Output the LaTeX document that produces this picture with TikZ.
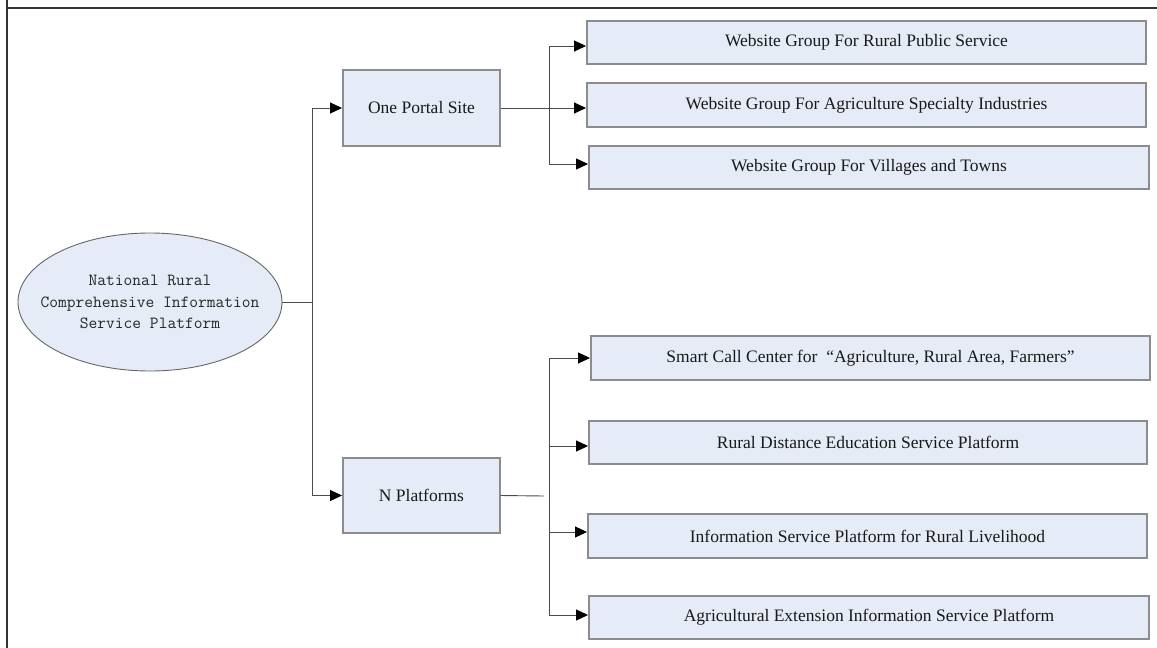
\documentclass[tikz,border=0pt]{standalone}
\usepackage{fontspec}
\setmainfont{Liberation Serif}
\usetikzlibrary{shapes.geometric,arrows.meta}
\definecolor{boxfill}{HTML}{E6ECF7}
\definecolor{boxline}{HTML}{8C8C8C}
\definecolor{connline}{HTML}{4A4A4A}
\begin{document}
\begin{tikzpicture}[x=1pt,y=-1pt,
  box/.style={draw=boxline,line width=1.3pt,fill=boxfill,inner sep=0pt,
    font=\fontsize{17.5}{20}\selectfont,text=black!90},
  conn/.style={draw=connline,line width=0.9pt},
  arr/.style={conn,-{Triangle[length=12pt,width=11pt,color=black]},shorten >=0.3pt}]
\useasboundingbox (0,0) rectangle (1157,648);
% frame (top and left only)
\draw[black!80,line width=2.2pt] (7,0) -- (7,648);
\draw[black!80,line width=2.2pt] (6,8) -- (1157,8);
% root ellipse
\node[ellipse,draw=black!60,line width=0.9pt,fill=boxfill,
  inner xsep=-22pt,inner ysep=0pt,
  minimum width=264pt,minimum height=138pt,
  font=\ttfamily\fontsize{17}{21.5}\selectfont,text=black!85,align=center]
  (root) at (150,302) {National Rural\\Comprehensive Information\\Service Platform};
% level 2
\node[box,minimum width=157pt,minimum height=76pt] (portal) at (421.5,108) {One Portal Site};
\node[box,minimum width=157pt,minimum height=75pt] (nplat) at (421.5,495.5) {N Platforms};
% level 3
\node[box,minimum width=559pt,minimum height=43pt] (w1) at (866.5,42.5) {Website Group For Rural Public Service};
\node[box,minimum width=559pt,minimum height=44pt] (w2) at (866.5,105) {Website Group For Agriculture Specialty Industries};
\node[box,minimum width=560pt,minimum height=43pt] (w3) at (869,167.5) {Website Group For Villages and Towns};
\node[box,minimum width=559pt,minimum height=44pt] (p1) at (870.5,358) {Smart Call Center for \ “Agriculture, Rural Area, Farmers”};
\node[box,minimum width=558pt,minimum height=43pt] (p2) at (868,442.5) {Rural Distance Education Service Platform};
\node[box,minimum width=559pt,minimum height=44pt] (p3) at (867.5,536) {Information Service Platform for Rural Livelihood};
\node[box,minimum width=560pt,minimum height=43pt] (p4) at (869,617.5) {Agricultural Extension Information Service Platform};
% junctions and arrow targets
\coordinate (j1) at (312,302);
\coordinate (j2) at (549,108);
\coordinate (stub) at (544,496);
\coordinate (v) at (549,0);
\coordinate (t1) at ([yshift=-3.5pt]w1.west);
\coordinate (t3) at ([yshift=3.5pt]w3.west);
\coordinate (q1) at (p1.west);
\coordinate (q2) at ([yshift=-3.5pt]p2.west);
\coordinate (q3) at ([yshift=4pt]p3.west);
\coordinate (q4) at ([yshift=2.5pt]p4.west);
% root connections
\draw[conn] (root.east) -- (j1);
\draw[arr] (j1) |- (portal.west);
\draw[arr] (j1) |- (nplat.west);
% portal connections
\draw[arr] (portal.east) -- (portal.east -| w2.west);
\draw[arr] (j2) |- (t1);
\draw[arr] (j2) |- (t3);
% N platforms connections
\draw[conn] (nplat.east) -- (stub);
\draw[conn] (v |- q1) -- (v |- q4);
\draw[arr] (v |- q1) -- (q1);
\draw[arr] (v |- q2) -- (q2);
\draw[arr] (v |- q3) -- (q3);
\draw[arr] (v |- q4) -- (q4);
\end{tikzpicture}
\end{document}
